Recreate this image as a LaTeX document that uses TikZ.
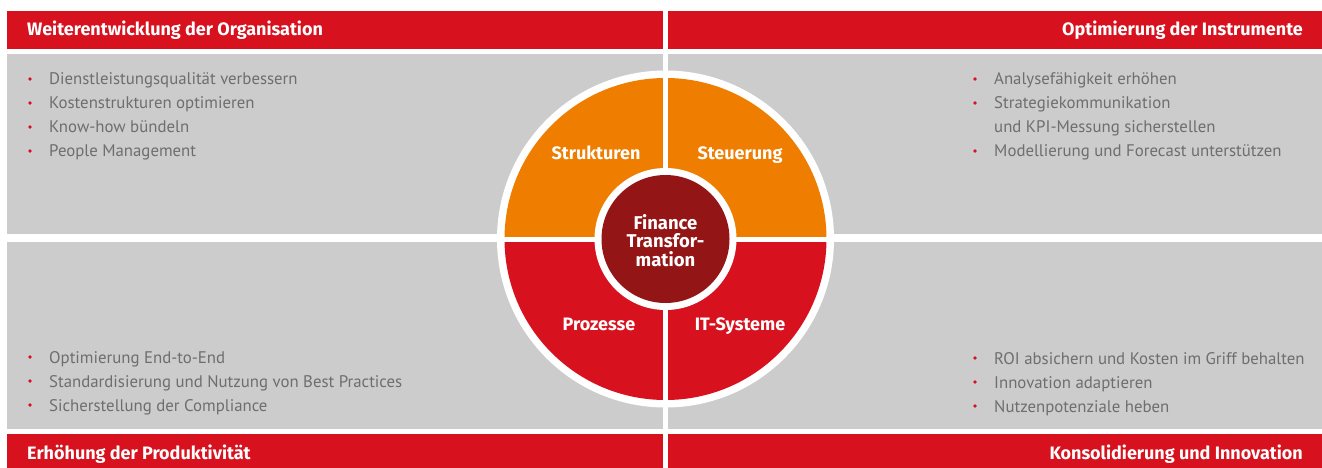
\documentclass[tikz,border=0pt]{standalone}
\usepackage{fontspec}
\setmainfont{PT Sans}
\newfontfamily\boldfont{Fira Sans}
\definecolor{barred}{HTML}{D7111E}
\definecolor{wedgeorange}{HTML}{EF7D00}
\definecolor{wedgered}{HTML}{D7111E}
\definecolor{coredark}{HTML}{931516}
\definecolor{panelgray}{HTML}{CCCCCC}
\definecolor{bodygray}{HTML}{6E6E6E}
\tikzset{
  header/.style={text=white, font=\boldfont\fontsize{18}{20}\selectfont\bfseries, inner sep=0pt},
  item/.style={text=bodygray, font=\fontsize{16.8}{24}\selectfont, inner sep=0pt, anchor=base west},
  dot/.style={circle, fill=barred, inner sep=0pt, minimum size=3.6pt},
  wedgelabel/.style={text=white, font=\boldfont\fontsize{18}{20}\selectfont\bfseries, inner sep=0pt, anchor=base},
}
\begin{document}
\begin{tikzpicture}[x=1pt,y=-1pt]
\useasboundingbox (0,0) rectangle (1322,468);
\fill[white] (0,0) rectangle (1322,468);
% header bars
\fill[barred] (7,11) rectangle (663,49);
\fill[barred] (668,11) rectangle (1322,49);
\fill[barred] (7,434) rectangle (663,468);
\fill[barred] (668,434) rectangle (1322,468);
% gray panels
\fill[panelgray] (7,54) rectangle (663,234);
\fill[panelgray] (668,54) rectangle (1322,234);
\fill[panelgray] (7,242) rectangle (663,429);
\fill[panelgray] (668,242) rectangle (1322,429);
% headers
\node[header, anchor=base west] (h1) at (27,35.5) {Weiterentwicklung der Organisation};
\node[header, anchor=base east] (h2) at (1303,35.5) {Optimierung der Instrumente};
\node[header, anchor=base west] (h3) at (27,459) {Erhöhung der Produktivität};
\node[header, anchor=base east] (h4) at (1303,459) {Konsolidierung und Innovation};
% top-left items
\node[item] (a1) at (49,85) {Dienstleistungsqualität verbessern};
\node[item] (a2) at (49,109) {Kostenstrukturen optimieren};
\node[item] (a3) at (49,133) {Know-how bündeln};
\node[item] (a4) at (49,157) {People Management};
\foreach \y/\n in {79/a1d,103/a2d,127/a3d,151/a4d} \node[dot] (\n) at (30,\y) {};
% top-right items
\node[item] (b1) at (994,85) {Analysefähigkeit erhöhen};
\node[item] (b2) at (994,109) {Strategiekommunikation};
\node[item] (b2b) at (994,133) {und KPI-Messung sicherstellen};
\node[item] (b3) at (994,157) {Modellierung und Forecast unterstützen};
\foreach \y/\n in {79/b1d,103/b2d,151/b3d} \node[dot] (\n) at (975,\y) {};
% bottom-left items
\node[item] (c1) at (49,363) {Optimierung End-to-End};
\node[item] (c2) at (49,387) {Standardisierung und Nutzung von Best Practices};
\node[item] (c3) at (49,411) {Sicherstellung der Compliance};
\foreach \y/\n in {357/c1d,381/c2d,405/c3d} \node[dot] (\n) at (30,\y) {};
% bottom-right items
\node[item] (d1) at (994,364) {ROI absichern und Kosten im Griff behalten};
\node[item] (d2) at (994,388) {Innovation adaptieren};
\node[item] (d3) at (994,412) {Nutzenpotenziale heben};
\foreach \y/\n in {358/d1d,382/d2d,406/d3d} \node[dot] (\n) at (975,\y) {};
% wheel
\coordinate (c) at (665.5,239);
\fill[white] (c) circle (168.5pt);
\begin{scope}
  \clip (c) circle (161pt);
  \fill[wedgeorange] (490,60) rectangle (840,239);
  \fill[wedgered] (490,239) rectangle (840,420);
\end{scope}
\fill[white] (663,70) rectangle (668,408);
\fill[white] (497,236.5) rectangle (834,241.5);
\fill[white] (c) circle (71pt);
\node[circle, fill=coredark, minimum size=128pt, inner sep=0pt] (core) at (c) {};
\node[text=white, font=\boldfont\fontsize{18.5}{18.5}\selectfont\bfseries, align=center, inner sep=0pt] (coretext) at (665.5,240.5) {Finance\\Transfor-\\mation};
\node[wedgelabel] (w1) at (596,159) {Strukturen};
\node[wedgelabel] (w2) at (740,159) {Steuerung};
\node[wedgelabel] (w3) at (599,330) {Prozesse};
\node[wedgelabel] (w4) at (740,330) {IT-Systeme};
\end{tikzpicture}
\end{document}
